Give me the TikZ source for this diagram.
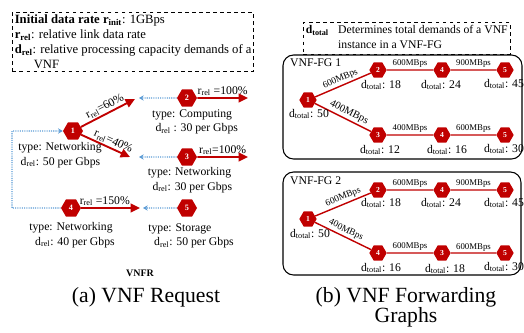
\documentclass[tikz,border=0pt]{standalone}
\usepackage{fontspec}
\setmainfont{Liberation Serif}
\usetikzlibrary{shapes.geometric,arrows.meta}

\definecolor{vnfred}{RGB}{192,0,0}
\definecolor{linkblue}{RGB}{91,155,213}

\tikzset{
  hexa/.style={regular polygon, regular polygon sides=6, fill=vnfred, inner sep=0pt,
    minimum size=0.6cm, text=white, font=\fontsize{7}{7}\selectfont\bfseries},
  rate/.style={draw=vnfred, line width=1.6pt, -{Triangle[length=8pt,width=7.5pt]}},
  link/.style={draw=linkblue, densely dotted, line width=0.9pt, -{Stealth[length=4pt,width=4.5pt]}},
  flow/.style={draw=vnfred, line width=1.2pt},
  rlabel/.style={above, sloped, inner sep=1pt},
  bw/.style={above, sloped, inner sep=1.5pt, font=\fontsize{7.5}{8}\selectfont},
  info/.style={align=left, inner sep=0pt},
  note/.style={draw, dashed, line width=0.8pt, align=left, anchor=north west},
  fgbox/.style={draw, rounded corners=9pt, line width=0.9pt}
}

\begin{document}
\begin{tikzpicture}[x=0.03cm, y=-0.03cm, font=\fontsize{10}{12.5}\selectfont]
    \useasboundingbox (0,0) rectangle (524,333);

    \node[note, inner xsep=2pt, inner ysep=1pt, minimum height=1.77cm,
      font=\fontsize{10.8}{12.8}\selectfont] (legend) at (12,12)
      {\textbf{Initial data rate r\textsubscript{init}}: 1GBps\\
       \textbf{r\textsubscript{rel}}: relative link data rate\\
       \textbf{d\textsubscript{rel}}: relative processing capacity demands of a\\
       \hspace*{1.5em}VNF};

    \node[hexa] (a1) at (73,131)  {1};
    \node[hexa] (a2) at (187,98)  {2};
    \node[hexa] (a3) at (187,157) {3};
    \node[hexa] (a4) at (71,208)  {4};
    \node[hexa] (a5) at (187,208) {5};

    \coordinate (in2)  at (135,99);
    \coordinate (in3)  at (130,157);
    \coordinate (in5)  at (140,208);
    \coordinate (tip2) at (139,98);
    \coordinate (tip3) at (139,157);
    \coordinate (tip5) at (143,208);
    \coordinate (out2) at (248,98);
    \coordinate (out3) at (248,157);
    \coordinate (loop) at (12,208);

    \draw[rate] (a1) -- node[rlabel]{r\textsubscript{rel}=60\%} (in2);
    \draw[rate] (a1) -- node[rlabel, pos=0.6]{r\textsubscript{rel}=40\%} (in3);
    \draw[rate] (a2) -- node[rlabel]{r\textsubscript{rel} =100\%} (out2);
    \draw[rate] (a3) -- node[rlabel]{r\textsubscript{rel}=100\%} (out3);
    \draw[rate] (a4) -- node[rlabel, pos=0.4]{r\textsubscript{rel} =150\%} (in5);

    \draw[link] (a2) -- (tip2);
    \draw[link] (a3) -- (tip3);
    \draw[link] (a5) -- (tip5);
    \draw[link] (a4) -- (loop) |- (a1);

    \node[info] (t1) at (60,155)  {type: Networking\\\hspace*{2pt}d\textsubscript{rel}: 50 per Gbps};
    \node[info] (t2) at (195,122) {type: Computing\\\hspace*{3pt}d\textsubscript{rel} : 30 per Gbps};
    \node[info] (t3) at (190,180) {type: Networking\\\hspace*{4pt}d\textsubscript{rel}: 30 per Gbps};
    \node[info] (t4) at (72,235)  {type: Networking\\\hspace*{5pt}d\textsubscript{rel}: 40 per Gbps};
    \node[info] (t5) at (191,236) {type: Storage\\\hspace*{5pt}d\textsubscript{rel}: 50 per Gbps};

    \node[font=\fontsize{8.5}{9}\selectfont\bfseries] (vnfr) at (140,273) {VNFR};
    \node[font=\fontsize{18.5}{17}\selectfont] (capa) at (146,297) {(a) VNF Request};

    \node[note, inner xsep=2pt, inner ysep=1pt] (dtot) at (303,22)
      {\begin{tabular}{@{}l@{\hspace{8pt}}l@{}}
         \textbf{d\textsubscript{total}} & Determines total demands of a VNF\\
                                         & instance in a VNF-FG
       \end{tabular}};

    \draw[fgbox] (283,55) rectangle (522,159);
    \draw[fgbox] (283,172) rectangle (521,275);
    \node[anchor=west] (fg1) at (286,63)  {VNF-FG 1};
    \node[anchor=west] (fg2) at (286,181) {VNF-FG 2};

    \tikzset{hexa/.append style={minimum size=0.52cm, font=\fontsize{6.5}{6.5}\selectfont\bfseries}}
    \node[hexa] (p1)  at (308,100) {1};
    \node[hexa] (p2)  at (378,70)  {2};
    \node[hexa] (p4)  at (442,70)  {4};
    \node[hexa] (p5)  at (505,70)  {5};
    \node[hexa] (p3)  at (378,135) {3};
    \node[hexa] (p4b) at (442,135) {4};
    \node[hexa] (p5b) at (505,135) {5};

    \node[hexa] (q1)  at (308,219) {1};
    \node[hexa] (q2)  at (378,190) {2};
    \node[hexa] (q4)  at (442,190) {4};
    \node[hexa] (q5)  at (505,190) {5};
    \node[hexa] (q4b) at (378,253) {4};
    \node[hexa] (q3)  at (442,253) {3};
    \node[hexa] (q5b) at (505,253) {5};

    \draw[flow] (p1) -- node[bw, font=\fontsize{8}{8}\selectfont]{600MBps} (p2);
    \draw[flow] (p2) -- node[bw]{600MBps} (p4);
    \draw[flow] (p4) -- node[bw]{900MBps} (p5);
    \draw[flow] (p1) -- node[bw, pos=0.55, font=\fontsize{9}{9}\selectfont]{400MBps} (p3);
    \draw[flow] (p3) -- node[bw]{400MBps} (p4b);
    \draw[flow] (p4b) -- node[bw]{600MBps} (p5b);

    \draw[flow] (q1) -- node[bw, pos=0.55, font=\fontsize{8}{8}\selectfont]{600MBps} (q2);
    \draw[flow] (q2) -- node[bw]{600MBps} (q4);
    \draw[flow] (q4) -- node[bw]{900MBps} (q5);
    \draw[flow] (q1) -- node[bw, font=\fontsize{8}{8}\selectfont]{400MBps} (q4b);
    \draw[flow] (q4b) -- node[bw]{600MBps} (q3);
    \draw[flow] (q3) -- node[bw, inner sep=0.5pt]{600MBps} (q5b);

    \node (dp1)  at (309,114) {d\textsubscript{total}: 50};
    \node (dp2)  at (381,85)  {d\textsubscript{total}: 18};
    \node (dp4)  at (441,85)  {d\textsubscript{total}: 24};
    \node (dp5)  at (504,84)  {d\textsubscript{total}: 45};
    \node (dp3)  at (380,150) {d\textsubscript{total}: 12};
    \node (dp4b) at (447,150) {d\textsubscript{total}: 16};
    \node (dp5b) at (504,149) {d\textsubscript{total}: 30};

    \node (dq1)  at (310,234) {d\textsubscript{total}: 50};
    \node (dq2)  at (381,203) {d\textsubscript{total}: 18};
    \node (dq4)  at (441,203) {d\textsubscript{total}: 24};
    \node (dq5)  at (504,203) {d\textsubscript{total}: 45};
    \node (dq4b) at (381,268) {d\textsubscript{total}: 16};
    \node (dq3)  at (445,269) {d\textsubscript{total}: 18};
    \node (dq5b) at (504,267) {d\textsubscript{total}: 30};

    \node[align=center, font=\fontsize{18.5}{17}\selectfont] (capb) at (406,307) {(b) VNF Forwarding\\Graphs};
\end{tikzpicture}
\end{document}
